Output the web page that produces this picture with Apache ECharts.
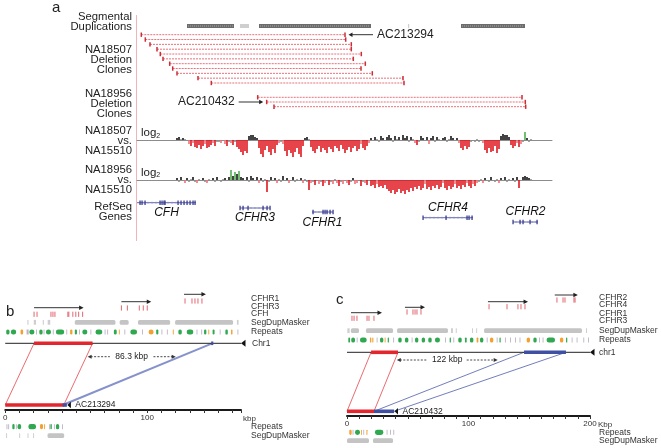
<!DOCTYPE html>
<html><head><meta charset="utf-8">
<script src="https://cdn.jsdelivr.net/npm/echarts@6/dist/echarts.min.js"></script>
<style>html,body{margin:0;padding:0;background:#fff;}#chart{width:661px;height:448px;}</style>
</head><body><div id="chart"></div>
<script>
const FONT = '"Liberation Sans", Arial, Helvetica, sans-serif';

// ================= DATA: panel a (kb from left edge of the region) =================
const segDupStartKb = [50, 103, 122, 271, 324];
const segDupEndKb   = [97, 112, 234, 272, 388];
const segDupHighIdentity = [1, 0, 1, 0, 1];

const na18507CloneStartKb = [4.3, 8.3, 13, 20, 23.3, 26, 32.7, 35.7, 40, 61, 74.3];
const na18507CloneEndKb   = [208, 208.7, 214.3, 214.3, 224.3, 216.3, 228.3, 224, 235.3, 266, 267];
const na18956CloneStartKb = [120.7, 129.7, 137];
const na18956CloneEndKb   = [385, 388.3, 388.7];
const cloneCallouts = ['AC213294', 'AC210432'];

const probeStartKb = 40, probeStepKb = 2;
const log2NA18507vsNA15510 = [
 2,3,1,2,1,-1,
 -4,-6,-3,-7,-8,-5,-9,-6,-4,-8,-7,-5,-3,-6,-2,
 -2,-3,-1,-4,-6,-2,-3,-5,-2,-7,-9,
 -12,-15,-11,-13,
 4,5,5,3,2,
 -8,-14,-17,-10,-6,-12,-15,-9,-13,-5,
 -3,-2,-4,
 -11,-16,-10,-13,-17,-12,-8,-14,-17,-6,
 2,3,1,
 -7,-11,-13,-9,-6,-12,-8,-10,-13,-7,-9,-12,-6,-8,-11,-5,-9,-13,-10,-7,-12,-8,-6,-11,-9,-4,-8,-10,-6,-3,
 2,-1,3,1,-2,4,2,-1,3,5,2,-2,4,1,3,-1,5,2,4,-2,3,1,-3,-5,-2,4,2,-1,3,-4,2,4,-2,3,1,-1,2,3,-2,1,4,2,-1,2,-3,
 -8,-10,-6,-9,-7,-2,-1,
 -2,1,-2,-1,-3,
 -10,-13,-8,-12,-11,-6,-13,-9,
 4,6,5,5,3,
 -5,-8,-6,-3,-7,-4,-2,
 8,2,-2,1
];
const log2NA18956vsNA15510 = [
 2,-2,3,-1,-3,2,-2,1,3,-2,-3,1,-1,2,-2,-3,1,-1,2,-2,3,-1,-2,1,2,-1,3,
 10,4,8,6,9,
 3,2,-1,3,-2,4,2,-1,3,-3,2,-2,1,
 -12,
 -2,3,-1,2,-3,1,-2,4,-1,2,-3,-1,3,-2,1,-1,2,-3,1,-2,
 -10,
 -3,-2,-5,-1,-4,-2,-6,-3,-1,-5,-2,-4,1,-3,-6,-2,-4,-1,-3,-5,-2,2,-4,-3,-1,-6,-2,-3,-5,-1,
 -6,-5,-8,-4,-7,-6,-8,-5,-9,
 -11,-13,-10,-14,-12,-9,-13,-11,-14,-10,-12,-8,-11,
 -7,-9,-6,-10,-8,-4,-9,-7,-10,-6,-8,-5,-9,-7,-3,-8,-10,-6,-9,-7,-4,-8,-6,-9,-5,-7,-3,-6,-8,-4,-6,-3,
 -2,1,-3,2,-1,-2,3,-1,-2,1,-3,2,-1,3,-2,1,-1,2,-2,3,
 -8,
 -1,3,4,3,2,1
];

const refSeqGenes   = ['CFH', 'CFHR3', 'CFHR1', 'CFHR4', 'CFHR2'];
const refSeqStartKb = [0, 103, 175, 286, 376];
const refSeqEndKb   = [59, 133, 196, 336, 401];
const refSeqExonsKb = [
  [3,5,8,23,25,27,28,41,44,47,50,53,56,58],
  [103,106,111,126,130,133],
  [176,186,188,190,193,196],
  [286,309,330,332,335],
  [376,383,386,393,400]
];

// ================= DATA: panel b (kbp) =================
const bChr1LengthKb = 166;
const bGeneNames = ['CFH', 'CFHR3', 'CFHR1'];
const bGeneStartKb = [20.3, 81.8, 125.9];
const bGeneEndKb   = [55.2, 102.8, 141.3];
const bGeneExonsKb = [
  [20.3,22.4,32.2,33.6,35,44.1,44.8,47.6,49.7,51.7,54.5],
  [81.8,86,94.4,97.2,100],
  [126.6,131.5,133.6,135.7,138.5]
];
const bSegDupKb = [[15.6,16.4],[20.1,21.7],[26.4,27.2],[29.9,31.7],[49,77.6],[80.6,86.9],[93.5,116.1],[119.6,160.4],[163.1,164.3]];
// repeat class: 0 simple/low complexity, 1 LINE/LTR, 2 SINE
const bRepeatsKb = [[0.7,3,1],[4,7.7,1],[10.8,12.6,2],[15,16.5,0],[17,20.5,1],[21.7,22.3,0],[24,26.3,1],[27,27.5,0],[28.7,32.2,1],[33.5,34,0],[35.7,41.5,1],[43,43.5,0],[45.7,47.3,2],[49,50.5,1],[52,52.5,0],[54.3,57.8,1],[60,60.5,0],[63.6,68.3,1],[70,70.5,0],[71.8,72.3,0],[76.5,78.5,1],[80,80.5,2],[83.9,84.4,0],[88.1,92.8,1],[96.3,96.8,0],[101,104.4,2],[106.3,107.8,1],[110,110.5,0],[113.8,114.3,0],[118,118.5,2],[121.9,124.3,1],[127.8,132.4,1],[134.7,135.2,0],[138,138.5,0],[140,141.6,1],[143,143.5,2],[146,147.4,1],[151,151.5,0],[155,156.7,1],[159,160,2],[163.5,164,0]];
const bChr1DeletedKb = [20.3, 61.5];
const bChr1AnchorKb  = [145, 146.5];
const bCloneName = 'AC213294';
const bCloneMatchKb  = [0, 41.2];
const bCloneAnchorKb = [40.5, 43.4];
const bGapKb = [58, 120];
const bGapLabel = '86.3 kbp';
const bCloneRepeatsKb = [[0.9,1.3,0],[2.1,2.5,0],[5,6.6,1],[7.5,7.9,0],[8.7,11.2,1],[16.3,21.7,1],[24.5,26.6,2],[27.4,28,2],[30.8,31.2,0],[31.8,32.8,1],[34.3,34.7,0],[35.7,38,1],[40,40.4,0]];
const bCloneSegDupKb = [[0.6,1.0],[9.8,10.3],[15.7,16.2],[19.6,20.1],[29.8,41.5]];

// ================= DATA: panel c (kbp) =================
const cChr1LengthKb = 200;
const cGeneNames = ['CFHR3', 'CFHR1', 'CFHR4', 'CFHR2'];
const cGeneStartKb = [3.3, 47.7, 116, 171];
const cGeneEndKb   = [28.8, 64.2, 149, 190];
const cGeneExonsKb = [
  [4.1,5.8,8.2,16.5,18.1,22.2],
  [49.4,54.3,56,57.6,60.9],
  [116.9,131.7,140.7,143.2,146.5],
  [172.8,177.8,179.4,186.8,187.7]
];
const cSegDupKb = [[0.3,2.2],[3.2,9.9],[15.6,37.9],[41.2,83.1],[85.6,87.2],[89.5,90.2],[102.9,103.6],[106.3,107],[112.8,193.4],[196.7,197.5]];
const cRepeatsKb = [[1.1,2.5,1],[3.5,6.6,1],[8,8.4,0],[10.7,16.2,1],[18.9,20,2],[20.8,21.7,2],[24.4,24.8,0],[27.2,29.9,1],[31,31.6,2],[33.5,34.5,1],[38,38.4,0],[42.2,45,1],[47.7,50.5,1],[53.2,53.6,0],[56,58.7,1],[61.5,64.2,1],[66.9,69.7,1],[72.4,76.5,1],[80.7,81.1,0],[84.5,85.5,1],[87.5,87.9,0],[91.6,94.4,1],[97.1,98.5,1],[101.2,104,1],[106.7,108.1,2],[109.5,112.2,1],[115,115.4,0],[117.7,120.4,2],[123.2,123.6,0],[125.5,126.5,1],[130,130.4,0],[134.2,134.6,0],[138.3,138.7,0],[142,142.4,0],[147.9,150.6,2],[153.4,156.1,1],[158,158.4,0],[161,161.4,0],[164.3,171.2,1],[175.3,178,2],[180.3,181.3,1],[184.9,185.3,0],[189,189.4,0],[194.5,194.9,0],[198.4,198.8,0]];
const cChr1DeletedKb = [19.8, 42];
const cChr1AnchorKb  = [145.7, 180.2];
const cCloneName = 'AC210432';
const cCloneMatchKb  = [0, 22.2];
const cCloneAnchorKb = [22.2, 38.7];
const cGapKb = [41, 124];
const cGapLabel = '122 kbp';
const cCloneRepeatsKb = [[1.9,3.8,2],[4.6,5,0],[6.6,10.7,1],[11.5,12,2],[13.4,13.8,0],[16,16.8,2],[23,29.9,1],[32.6,33,0],[35.4,35.8,0],[38.1,38.5,0]];
const cCloneSegDupKb = [[0,18.1],[21.4,37.9]];

// ================= LAYOUT (track rows in each grid's y units) =================
const LA = { segDup: 11, c18507: 19.7, c18507Step: 4.83, c18956: 82.3, c18956Step: 4.7,
  geneY: [187.7, 193, 197, 202.7, 207], geneLabelDy: [10, 10, 11, -10, -10] };
const LB = { arrowY: [17.7, 11.7, 4.3], exonY: [24.3, 18, 11], segDup: 32.3, repeats: 42, chr: 53.3, gap: 66.7, clone: 115, cRepeats: 136.7, cSegDup: 145.7 };
const LC = { arrowY: [22.7, 17.3, 11.7, 5], exonY: [28.3, 22, 16.7, 10], segDup: 40.7, repeats: 50, chr: 62.3, gap: 70, clone: 121.3, cRepeats: 142.3, cSegDup: 150.7 };

// ================= RENDERERS =================
const RED = '#e3262d', BLUE = '#3f50a2';
function seg(x1,y1,x2,y2,stroke,w,dash){ return {type:'line', shape:{x1,y1,x2,y2}, style:{stroke, lineWidth:w||1, lineDash:dash||null}}; }
function tx(x,y,text,o){ return {type:'text', x, y, style:Object.assign({text, fill:'#222', fontSize:9, fontFamily:FONT, textAlign:'left', textVerticalAlign:'middle'}, o||{})}; }
function custom(g, data, render){ return {type:'custom', xAxisIndex:g, yAxisIndex:g, data, renderItem:render, silent:true, clip:false, animation:false}; }

function rSegDupA(p, api){
  const y=api.value(1), a=api.coord([api.value(0),y]), b=api.coord([api.value(2),y]);
  const dark = api.value(3) === 1;
  const ch=[{type:'rect', shape:{x:a[0], y:a[1]-2, width:Math.max(b[0]-a[0],1.2), height:4}, style:{fill: dark?'#6c6c6c':'#cfcfcf'}}];
  if (dark) ch.push(seg(a[0]+1,a[1],b[0]-1,a[1],'#a8a8a8',1,[1,1]));
  return {type:'group', children:ch};
}
function rClone(p, api){
  const y=api.value(1), a=api.coord([api.value(0),y]), b=api.coord([api.value(2),y]);
  return {type:'group', children:[
    seg(a[0],a[1],b[0],b[1],'#e6737a',1,[2,1]),
    seg(a[0],a[1]-2.2,a[0],a[1]+2.2,'#cf2a36',1.5),
    seg(b[0],b[1]-2.2,b[0],b[1]+2.2,'#cf2a36',1.5)
  ]};
}
function rCallout(p, api){
  const a=api.coord([api.value(0),api.value(1)]), d=api.value(2), x=a[0], y=a[1];
  const tip = x + d*3.5, tail = x + d*28;
  return {type:'group', children:[
    seg(tail,y,tip+d*3,y,'#333',1),
    {type:'polygon', shape:{points:[[tip,y],[tip+d*4,y-2.2],[tip+d*4,y+2.2]]}, style:{fill:'#222'}},
    tx(x + d*32, y, cloneCallouts[p.dataIndex], {fontSize:12, textAlign: d>0?'left':'right'})
  ]};
}
function rGeneA(p, api){
  const i=p.dataIndex, y=api.value(1), a=api.coord([api.value(0),y]), b=api.coord([api.value(2),y]);
  const ch=[seg(a[0],a[1],b[0],a[1],'#6064ad',1)];
  for (let x=a[0]+3; x<b[0]-1; x+=4) ch.push(seg(x,a[1]-1,x,a[1]+1,'#8e91c6',0.8));
  refSeqExonsKb[i].forEach(k=>{ const q=api.coord([k,y]); ch.push({type:'rect', shape:{x:q[0]-0.6,y:q[1]-2.2,width:1.3,height:4.4}, style:{fill:'#3a3d8e'}}); });
  const c=api.coord([(api.value(0)+api.value(2))/2, y]);
  ch.push(tx(c[0], c[1]+LA.geneLabelDy[i], refSeqGenes[i], {fontSize:12, fontStyle:'italic', textAlign:'center', fill:'#111'}));
  return {type:'group', children:ch};
}
function rArrow(p, api){
  const y=api.value(1), a=api.coord([api.value(0),y]), b=api.coord([api.value(2),y]);
  return {type:'group', children:[
    seg(a[0],a[1],b[0]-3,b[1],'#333',1),
    {type:'polygon', shape:{points:[[b[0],b[1]],[b[0]-4.5,b[1]-2.3],[b[0]-4.5,b[1]+2.3]]}, style:{fill:'#222'}}
  ]};
}
function rExon(p, api){
  const a=api.coord([api.value(0),api.value(1)]);
  return seg(a[0],a[1]-2.6,a[0],a[1]+2.6,'#e0555f',0.9);
}
function rSegDup(p, api){
  const y=api.value(1), a=api.coord([api.value(0),y]), b=api.coord([api.value(2),y]);
  const w=Math.max(b[0]-a[0],1);
  return {type:'rect', shape:{x:a[0], y:a[1]-2.4, width:w, height:4.8, r: w>3?1.5:0}, style:{fill: w>3?'#c4c4c4':'#cfcfcf'}};
}
function rRepeat(p, api){
  const y=api.value(1), a=api.coord([api.value(0),y]), b=api.coord([api.value(2),y]), t=api.value(3);
  const w=Math.max(b[0]-a[0],0.9);
  const fill = t===1 ? '#2fa84f' : (t===2 ? '#f3a02e' : '#bdb3c6');
  const h = t===0 ? 5 : 5.2;
  return {type:'rect', shape:{x:a[0], y:a[1]-h/2, width:w, height:h, r: t===0?0:Math.min(w/2,2.4)}, style:{fill}};
}
function rChr(p, api){
  const y=api.value(1), a=api.coord([api.value(0),y]), b=api.coord([api.value(2),y]);
  return {type:'group', children:[
    seg(a[0],a[1],b[0],b[1],'#222',1),
    {type:'polygon', shape:{points:[[b[0],b[1]],[b[0]+4.5,b[1]-3.5],[b[0]+4.5,b[1]+3.5]]}, style:{fill:'#111'}}
  ]};
}
function rBar(p, api){
  const y=api.value(1), a=api.coord([api.value(0),y]), b=api.coord([api.value(2),y]);
  return {type:'rect', shape:{x:a[0], y:a[1]-1.8, width:Math.max(b[0]-a[0],1.5), height:3.6}, style:{fill: api.value(3)===0?RED:BLUE}};
}
function rCloneEnd(p, api){
  const y=api.value(1), a=api.coord([api.value(0),y]);
  return {type:'group', children:[
    {type:'polygon', shape:{points:[[a[0]+0.5,a[1]],[a[0]+4,a[1]-3.2],[a[0]+4,a[1]+3.2]]}, style:{fill:'#111'}},
    tx(a[0]+8.5, a[1], api.value(2)===0?bCloneName:cCloneName, {fontSize:8.5})
  ]};
}
const LINK_STYLE = [['#e4454c',0.8],['#8592cb',2],['#4e5dab',0.8]];
function rLink(p, api){
  const a=api.coord([api.value(0),api.value(1)]), b=api.coord([api.value(2),api.value(3)]);
  const s=LINK_STYLE[api.value(4)];
  return seg(a[0],a[1],b[0],b[1],s[0],s[1]);
}
function rGap(p, api){
  const y=api.value(1), a=api.coord([api.value(0),y]), b=api.coord([api.value(2),y]);
  const label = api.value(3)===0 ? bGapLabel : cGapLabel;
  const mid=(a[0]+b[0])/2, hw = label.length*2.35+3;
  return {type:'group', children:[
    seg(a[0]+3,a[1],mid-hw,a[1],'#333',0.9,[2,1.5]),
    seg(mid+hw,a[1],b[0]-3,a[1],'#333',0.9,[2,1.5]),
    {type:'polygon', shape:{points:[[a[0],a[1]],[a[0]+4,a[1]-2],[a[0]+4,a[1]+2]]}, style:{fill:'#333'}},
    {type:'polygon', shape:{points:[[b[0],b[1]],[b[0]-4,b[1]-2],[b[0]-4,b[1]+2]]}, style:{fill:'#333'}},
    tx(mid, a[1], label, {fontSize:8.5, textAlign:'center'})
  ]};
}

// ================= SERIES =================
const series = [];
// panel a
series.push(custom(0, segDupStartKb.map((s,i)=>[s, LA.segDup, segDupEndKb[i], segDupHighIdentity[i]]), rSegDupA));
series.push(custom(0, na18507CloneStartKb.map((s,i)=>[s, LA.c18507 + i*LA.c18507Step, na18507CloneEndKb[i]]).concat(
                      na18956CloneStartKb.map((s,i)=>[s, LA.c18956 + i*LA.c18956Step, na18956CloneEndKb[i]])), rClone));
series.push(custom(0, [[na18507CloneEndKb[0], LA.c18507, 1], [na18956CloneStartKb[1], LA.c18956 + LA.c18956Step, -1]], rCallout));
series.push(custom(0, refSeqStartKb.map((s,i)=>[s, LA.geneY[i], refSeqEndKb[i]]), rGeneA));

function log2Color(v){
  if (v >= 7) return '#4fb04f';
  if (v >= 2) return '#151515';
  if (v > -3) return '#8e8e8e';
  if (v > -5) return '#ee7078';
  return '#e0161f';
}
[log2NA18507vsNA15510, log2NA18956vsNA15510].forEach((arr, k)=>{
  series.push({type:'bar', xAxisIndex:1+k, yAxisIndex:1+k, barWidth:1.6, animation:false, silent:true,
    data: arr.map((v,i)=>[probeStartKb + i*probeStepKb, v]),
    itemStyle:{color: p => log2Color(p.value[1])}});
});

// panels b and c
function addTracks(g, L, genes, segdup, repeats, chrLen, chrDel, chrAnchor, cloneMatch, cloneAnchor, gap, cloneRep, cloneSeg, id){
  series.push(custom(g, genes.start.map((s,i)=>[s, L.arrowY[i], genes.end[i]]), rArrow));
  const ex=[]; genes.exons.forEach((list,i)=>list.forEach(k=>ex.push([k, L.exonY[i]])));
  series.push(custom(g, ex, rExon));
  series.push(custom(g, segdup.map(d=>[d[0], L.segDup, d[1]]).concat(cloneSeg.map(d=>[d[0], L.cSegDup, d[1]])), rSegDup));
  series.push(custom(g, repeats.map(d=>[d[0], L.repeats, d[1], d[2]]).concat(cloneRep.map(d=>[d[0], L.cRepeats, d[1], d[2]])), rRepeat));
  const blueStyle = id===0 ? 1 : 2;
  const links = [[chrDel[0], L.chr, cloneMatch[0], L.clone, 0],[chrDel[1], L.chr, cloneMatch[1], L.clone, 0]];
  if (id===0) links.push([(chrAnchor[0]+chrAnchor[1])/2, L.chr, cloneAnchor[0], L.clone, blueStyle]);
  else { links.push([chrAnchor[0], L.chr, cloneAnchor[0], L.clone, blueStyle]); links.push([chrAnchor[1], L.chr, cloneAnchor[1], L.clone, blueStyle]); }
  series.push(custom(g, links, rLink));
  series.push(custom(g, [[0, L.chr, chrLen]], rChr));
  series.push(custom(g, [[chrDel[0], L.chr, chrDel[1], 0],[chrAnchor[0], L.chr, chrAnchor[1], 1],[cloneMatch[0], L.clone, cloneMatch[1], 0],[cloneAnchor[0], L.clone, cloneAnchor[1], 1]], rBar));
  series.push(custom(g, [[cloneAnchor[1], L.clone, id]], rCloneEnd));
  series.push(custom(g, [[gap[0], L.gap, gap[1], id]], rGap));
}
addTracks(3, LB, {start:bGeneStartKb, end:bGeneEndKb, exons:bGeneExonsKb}, bSegDupKb, bRepeatsKb, bChr1LengthKb, bChr1DeletedKb, bChr1AnchorKb, bCloneMatchKb, bCloneAnchorKb, bGapKb, bCloneRepeatsKb, bCloneSegDupKb, 0);
addTracks(4, LC, {start:cGeneStartKb, end:cGeneEndKb, exons:cGeneExonsKb}, cSegDupKb, cRepeatsKb, cChr1LengthKb, cChr1DeletedKb, cChr1AnchorKb, cCloneMatchKb, cCloneAnchorKb, cGapKb, cCloneRepeatsKb, cCloneSegDupKb, 1);

// ================= AXES =================
const hiddenX = (max)=>({type:'value', min:0, max, show:false});
const baseX = (g)=>({type:'value', gridIndex:g, min:0, max:415, axisLine:{show:true, onZero:true, lineStyle:{color:'#8c8c8c', width:1}}, axisTick:{show:false}, axisLabel:{show:false}, splitLine:{show:false}});
const kbX = (g, max)=>({type:'value', gridIndex:g, min:0, max, interval:10, position:'bottom',
  axisLine:{show:true, onZero:false, lineStyle:{color:'#1a1a1a', width:2}},
  axisTick:{show:true, length:3, lineStyle:{color:'#333', width:1}},
  axisLabel:{show:true, margin:4, fontSize:8, fontFamily:FONT, color:'#333', formatter:v=> v%100===0 ? String(v) : ''},
  splitLine:{show:false}});
const hidY = (g, min, max, inv)=>({type:'value', gridIndex:g, min, max, inverse:!!inv, show:false, splitLine:{show:false}});

// ================= STATIC TEXT =================
const G = [];
function T(x,y,text,o){ G.push({type:'text', x, y, silent:true, style:Object.assign({text, fill:'#222', fontSize:12, fontFamily:FONT, textAlign:'left', textVerticalAlign:'middle'}, o||{})}); }
G.push({type:'line', silent:true, shape:{x1:136.5,y1:15,x2:136.5,y2:241}, style:{stroke:'#f2b4b8', lineWidth:1}});
T(52, 8, 'a', {fontSize:15});
const R = {textAlign:'right', fontSize:11.3, lineHeight:10};
T(132, 22, 'Segmental\nDuplications', R);
T(132, 60, 'NA18507\nDeletion\nClones', R);
T(132, 104, 'NA18956\nDeletion\nClones', R);
T(132, 141, 'NA18507\nvs.\nNA15510', R);
T(132, 179.5, 'NA18956\nvs.\nNA15510', R);
T(132, 212, 'RefSeq\nGenes', R);
const logRich = {a:{fontSize:11.5, fontFamily:FONT, fill:'#222'}, b:{fontSize:7, fontFamily:FONT, fill:'#222', padding:[6,0,0,0]}};
T(141, 133, '{a|log}{b|2}', {rich:logRich});
T(141, 172.5, '{a|log}{b|2}', {rich:logRich});
// b
T(6, 312, 'b', {fontSize:15});
const S = {fontSize:8.5, fill:'#333'};
T(251, 298.3, 'CFHR1', S); T(251, 306.3, 'CFHR3', S); T(251, 314, 'CFH', S);
T(251, 322.3, 'SegDupMasker', S); T(251, 332, 'Repeats', S); T(252, 343.3, 'Chr1', S);
T(243, 418.5, 'kbp', {fontSize:8, fill:'#333'});
T(251, 426.7, 'Repeats', S); T(251, 435.7, 'SegDupMasker', S);
// c
T(336, 300, 'c', {fontSize:15});
T(599, 297.3, 'CFHR2', S); T(599, 305, 'CFHR4', S); T(599, 313.3, 'CFHR1', S); T(599, 321, 'CFHR3', S);
T(599, 331, 'SegDupMasker', S); T(599, 340, 'Repeats', S); T(599, 352.3, 'chr1', S);
T(598, 424.3, 'Kbp', {fontSize:8, fill:'#333'});
T(599, 432.3, 'Repeats', S); T(599, 440.7, 'SegDupMasker', S);

const option = {
  animation:false,
  backgroundColor:'#fff',
  textStyle:{fontFamily:FONT},
  grid:[
    {left:137, top:15, width:415, height:225},
    {left:137, top:126, width:415, height:36},
    {left:137, top:166, width:415, height:36},
    {left:4, top:290, width:237, height:120},
    {left:347, top:290, width:243, height:126}
  ],
  xAxis:[ Object.assign(hiddenX(415), {gridIndex:0}), baseX(1), baseX(2), kbX(3, bChr1LengthKb), kbX(4, cChr1LengthKb) ],
  yAxis:[ hidY(0,0,225,true), hidY(1,-22,14), hidY(2,-22,14), hidY(3,0,120,true), hidY(4,0,126,true) ],
  graphic: G,
  series
};
const chart = echarts.init(document.getElementById('chart'));
chart.setOption(option);
</script>
</body></html>
